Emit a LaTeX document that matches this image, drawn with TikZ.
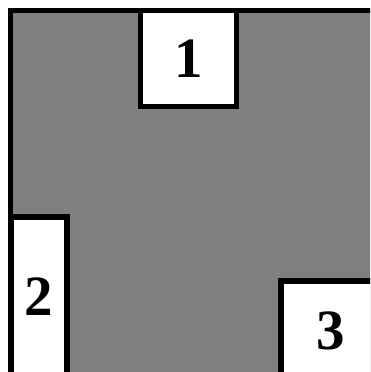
\documentclass[tikz,border=0pt]{standalone}
\usepackage{fontspec}
\setmainfont{Liberation Serif}
\begin{document}
\begin{tikzpicture}[x=1pt,y=-1pt,
  boxline/.style={draw=black,line width=5.5pt},
  numbox/.style={boxline,fill=white,inner sep=0pt,anchor=center,
    font=\fontsize{57}{57}\selectfont\bfseries}]
\useasboundingbox (0,0) rectangle (370,372);
\clip (0,0) rectangle (370,372);
\fill[white] (0,0) rectangle (370,372);
\path[boxline,fill={rgb,255:red,128;green,128;blue,128}] (10.5,10.5) rectangle (420,420);
\node[numbox,minimum width=96pt,minimum height=96pt] (b1) at (188.5,58.5) {1};
\node[numbox,minimum width=56pt,minimum height=160pt] (b2) at (39,297) {2};
\node[numbox,minimum width=100pt,minimum height=100pt] (b3) at (331,331) {3};
\end{tikzpicture}
\end{document}
